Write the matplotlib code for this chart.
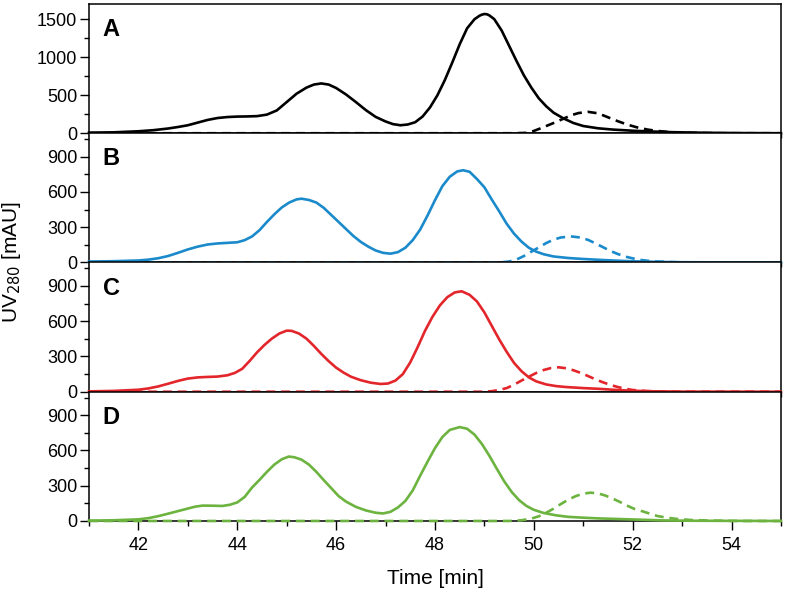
import numpy as np
import matplotlib
matplotlib.use("Agg")
import matplotlib.pyplot as plt
from matplotlib.ticker import MultipleLocator

plt.rcParams['font.family'] = ['Liberation Sans', 'DejaVu Sans']

# --- chromatogram traces (time in min, UV280 in mAU) ---
# A
tA = [41.0, 41.5, 42.0, 42.3, 42.6, 42.8, 43.0, 43.2, 43.4, 43.6, 43.8, 44.0, 44.2, 44.4,
      44.6, 44.8, 45.0, 45.2, 45.4, 45.55, 45.7, 45.85, 46.0, 46.2, 46.4, 46.6, 46.8, 47.0,
      47.15, 47.3, 47.45, 47.6, 47.75, 47.9, 48.05, 48.2, 48.35, 48.5, 48.65, 48.8, 48.9,
      48.95, 49.0, 49.05, 49.1, 49.2, 49.35, 49.5, 49.65, 49.8, 49.95, 50.1, 50.25, 50.4,
      50.6, 50.8, 51.0, 51.3, 51.6, 52.0, 52.3, 52.8, 53.5, 54.2, 55.0]
vA = [8, 12, 26, 40, 62, 82, 105, 140, 175, 200, 213, 219, 221, 225,
      245, 300, 410, 520, 600, 640, 655, 640, 595, 510, 410, 305, 215, 155,
      120, 105, 115, 145, 220, 340, 500, 700, 930, 1170, 1380, 1500, 1545,
      1560, 1568, 1565, 1550, 1500, 1350, 1150, 950, 760, 600, 460, 355, 270,
      195, 135, 95, 65, 48, 33, 25, 14, 6, 2, 0]
tA_d = [41.0, 49.6, 49.85, 50.0, 50.15, 50.3, 50.45, 50.6, 50.75, 50.9, 51.1, 51.3, 51.5,
        51.7, 51.9, 52.1, 52.3, 52.5, 52.8, 53.2, 53.8, 55.0]
vA_d = [0, 0, 5, 30, 68, 108, 148, 192, 235, 265, 281, 262, 210,
        158, 112, 75, 48, 30, 12, 4, 0, 0]

# B
tB = [41.0, 41.5, 42.0, 42.2, 42.4, 42.6, 42.8, 43.0, 43.2, 43.4, 43.6, 43.8, 44.0, 44.15,
      44.3, 44.45, 44.6, 44.75, 44.9, 45.05, 45.2, 45.3, 45.45, 45.6, 45.75, 45.9, 46.05,
      46.2, 46.35, 46.5, 46.65, 46.8, 46.95, 47.1, 47.25, 47.4, 47.55, 47.7, 47.85, 48.0,
      48.15, 48.3, 48.45, 48.57, 48.7, 48.85, 49.0, 49.15, 49.3, 49.45, 49.6, 49.75, 49.9,
      50.05, 50.2, 50.4, 50.7, 50.95, 51.3, 51.6, 52.0, 52.5, 53.0, 55.0]
vB = [8, 11, 17, 24, 36, 55, 82, 111, 135, 153, 162, 167, 172, 190,
      222, 275, 345, 410, 468, 510, 537, 543, 532, 510, 465, 405, 345,
      285, 225, 175, 135, 102, 82, 75, 88, 125, 190, 280, 400, 530,
      650, 730, 775, 785, 772, 710, 640, 535, 435, 330, 245, 178, 125,
      92, 70, 51, 38, 31, 23, 17, 10, 5, 2, 0]
tB_d = [41.0, 49.3, 49.5, 49.65, 49.8, 49.95, 50.1, 50.25, 50.4, 50.55, 50.75, 50.95, 51.1,
        51.25, 51.4, 51.55, 51.7, 51.85, 52.0, 52.15, 52.4, 52.8, 53.2, 55.0]
vB_d = [0, 0, 8, 25, 55, 92, 128, 165, 195, 213, 222, 212, 192,
        162, 130, 98, 72, 50, 35, 22, 10, 3, 0, 0]

# C
tC = [41.0, 41.5, 42.0, 42.2, 42.4, 42.6, 42.8, 43.0, 43.2, 43.4, 43.6, 43.8, 43.95, 44.1,
      44.25, 44.4, 44.55, 44.7, 44.85, 45.0, 45.1, 45.25, 45.4, 45.55, 45.7, 45.85, 46.0,
      46.15, 46.3, 46.5, 46.7, 46.9, 47.05, 47.2, 47.35, 47.5, 47.65, 47.8, 47.95, 48.1,
      48.25, 48.4, 48.54, 48.7, 48.85, 49.0, 49.15, 49.3, 49.45, 49.6, 49.75, 49.9, 50.05,
      50.25, 50.45, 50.65, 51.0, 51.3, 51.6, 51.95, 52.4, 53.0, 55.0]
vC = [3, 7, 17, 28, 45, 68, 92, 112, 122, 126, 129, 140, 160, 195,
      262, 335, 398, 452, 495, 520, 518, 495, 452, 390, 322, 260, 205,
      163, 128, 98, 77, 66, 70, 95, 150, 250, 380, 520, 638, 735,
      805, 845, 855, 825, 768, 675, 560, 445, 340, 245, 175, 122, 88,
      62, 48, 40, 31, 25, 17, 9, 4, 1, 0]
tC_d = [41.0, 49.0, 49.15, 49.3, 49.45, 49.6, 49.75, 49.9, 50.05, 50.2, 50.35, 50.5, 50.65,
        50.8, 50.95, 51.1, 51.25, 51.4, 51.55, 51.7, 51.85, 52.0, 52.3, 52.7, 53.0, 55.0]
vC_d = [0, 0, 5, 15, 31, 60, 95, 128, 160, 185, 202, 208, 200,
        183, 160, 133, 105, 80, 58, 40, 25, 15, 5, 1, 0, 0]

# D
tD = [41.0, 41.5, 42.0, 42.2, 42.4, 42.6, 42.8, 43.0, 43.15, 43.3, 43.5, 43.7, 43.85, 44.0,
      44.15, 44.3, 44.45, 44.6, 44.75, 44.9, 45.04, 45.15, 45.3, 45.45, 45.6, 45.75, 45.9,
      46.05, 46.2, 46.4, 46.6, 46.8, 46.95, 47.1, 47.25, 47.4, 47.55, 47.7, 47.85, 48.0,
      48.15, 48.3, 48.5, 48.65, 48.8, 48.95, 49.1, 49.25, 49.4, 49.55, 49.7, 49.85, 50.0,
      50.2, 50.45, 50.7, 51.0, 51.3, 51.7, 52.0, 52.6, 53.2, 55.0]
vD = [3, 6, 14, 24, 41, 62, 84, 106, 122, 131, 130, 128, 138, 158,
      205, 285, 350, 418, 480, 525, 548, 543, 522, 480, 418, 348, 280,
      212, 165, 120, 90, 70, 64, 78, 115, 170, 260, 385, 505, 620,
      715, 775, 799, 785, 735, 655, 555, 445, 338, 248, 178, 128, 95,
      68, 48, 35, 28, 22, 17, 13, 5, 2, 0]
tD_d = [41.0, 49.5, 49.75, 49.95, 50.1, 50.25, 50.4, 50.55, 50.7, 50.85, 51.0, 51.15, 51.3,
        51.45, 51.6, 51.75, 51.9, 52.05, 52.2, 52.35, 52.5, 52.7, 52.9, 53.2, 53.6, 54.2, 55.0]
vD_d = [0, 0, 6, 20, 40, 70, 105, 145, 182, 212, 233, 241, 235,
        216, 190, 160, 128, 100, 82, 62, 42, 28, 17, 8, 3, 0, 0]

panels = [
    ("A", tA, vA, tA_d, vA_d, "black", 1700, 500, 250),
    ("B", tB, vB, tB_d, vB_d, "#1a8acb", 1100, 300, 150),
    ("C", tC, vC, tC_d, vC_d, "#e2262b", 1100, 300, 150),
    ("D", tD, vD, tD_d, vD_d, "#6cb33f", 1100, 300, 150),
]

fig, axes = plt.subplots(4, 1, sharex=True, figsize=(7.86, 5.95), dpi=100)
fig.subplots_adjust(left=0.1132, right=0.9936, top=0.9933, bottom=0.1244, hspace=0)

for ax, (lab, t, v, td, vd, col, ymax, major, minor) in zip(axes, panels):
    ax.plot(td, vd, color=col, lw=1.9, dashes=(3.4, 2.2), zorder=3, clip_on=False)
    ax.plot(t, v, color=col, lw=1.9, zorder=3, clip_on=False,
            solid_joinstyle='round')
    ax.set_xlim(41, 55)
    ax.set_ylim(0, ymax)
    ax.yaxis.set_major_locator(MultipleLocator(major))
    ax.yaxis.set_minor_locator(MultipleLocator(minor))
    ax.xaxis.set_major_locator(MultipleLocator(2))
    ax.xaxis.set_minor_locator(MultipleLocator(1))
    ax.tick_params(which='both', direction='out', top=False, right=False,
                   width=1.0, labelsize=13, pad=2)
    ax.tick_params(which='major', length=6.5)
    ax.tick_params(which='minor', length=3.5)
    ax.tick_params(axis='x', pad=5)
    for s in ax.spines.values():
        s.set_linewidth(1.1)
    ax.text(0.02, 0.89, lab, transform=ax.transAxes, fontsize=17,
            fontweight='bold', va='top', ha='left')

axes[-1].set_xlabel("Time [min]", fontsize=15, labelpad=11)
fig.text(0.014, 0.56, "UV$_{280}$ [mAU]", rotation=90, va='center', ha='center', fontsize=15)

fig.savefig("out.png", dpi=100)
